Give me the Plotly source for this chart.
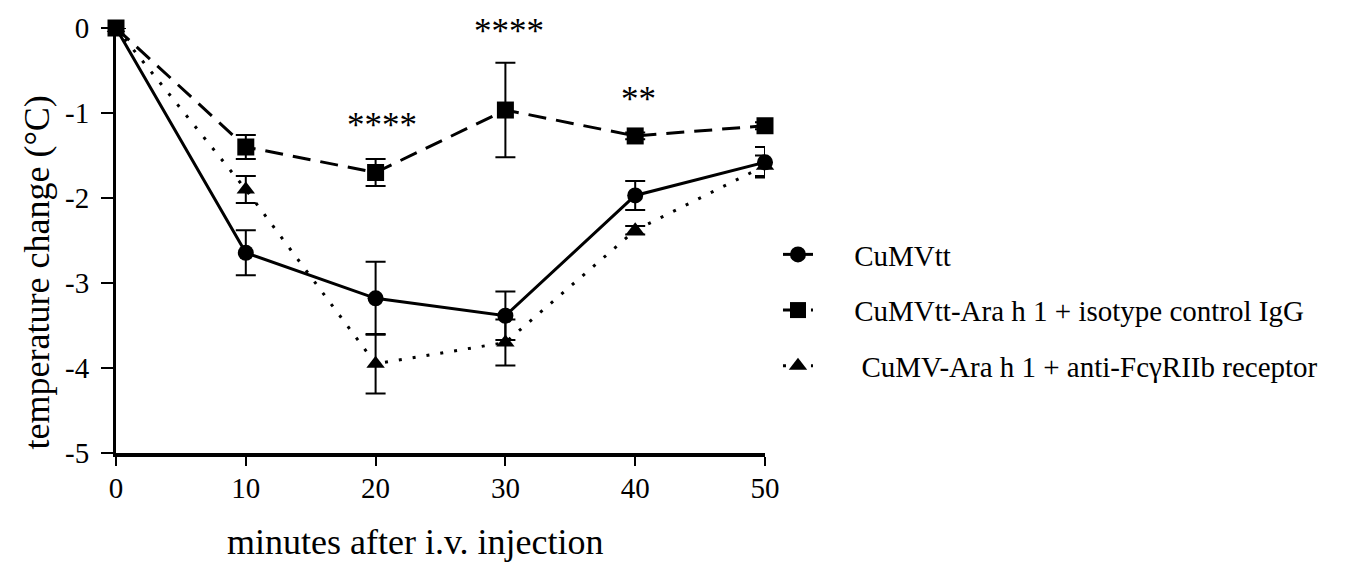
import plotly.graph_objects as go

# Time points (minutes after i.v. injection)
minutes = [0, 10, 20, 30, 40, 50]

# Mean temperature change (°C) and error (±) per group
cumvtt = [0, -2.645, -3.18, -3.385, -1.97, -1.58]
cumvtt_err = [None, 0.265, 0.43, 0.285, 0.17, 0.18]

iso_igg = [0, -1.40, -1.70, -0.965, -1.27, -1.15]
iso_igg_err = [None, 0.14, 0.16, 0.555, 0.04, 0.04]

anti_fc = [0, -1.90, -3.95, -3.70, -2.38, -1.62]
anti_fc_err = [None, 0.16, 0.35, 0.27, 0.05, 0.12]

# Significance labels (time point, label, y position)
sig_x = [20, 30, 40]
sig_text = ["****", "****", "**"]
sig_y = [-1.15, -0.04, -0.84]
sig_xshift = [6, 4, 3]

y_ticks = [0, -1, -2, -3, -4, -5]
y_ticktext = ["0", "-1", "-2", "-3", "-4", "-5"]
x_ticks = [0, 10, 20, 30, 40, 50]

FONT = "Liberation Serif"
NBSP = "\u00a0"

fig = go.Figure()


def err(vals):
    return dict(type="data", array=vals, visible=True, color="black",
                thickness=2, width=10)


fig.add_trace(go.Scatter(
    x=minutes, y=anti_fc, error_y=err(anti_fc_err),
    mode="lines+markers", name=NBSP * 6 + "CuMV-Ara h 1 + anti-FcγRIIb receptor",
    line=dict(color="black", width=3, dash="3px,11px"),
    marker=dict(symbol="triangle-up", size=16, color="black"),
    legendgroup="c", legendrank=3, cliponaxis=False,
))
fig.add_trace(go.Scatter(
    x=minutes, y=cumvtt, error_y=err(cumvtt_err),
    mode="lines+markers", name=NBSP * 5 + "CuMVtt",
    line=dict(color="black", width=3),
    marker=dict(symbol="circle", size=16, color="black"),
    legendgroup="a", legendrank=1, cliponaxis=False,
))
fig.add_trace(go.Scatter(
    x=minutes, y=iso_igg, error_y=err(iso_igg_err),
    mode="lines+markers", name=NBSP * 5 + "CuMVtt-Ara h 1 + isotype control IgG",
    line=dict(color="black", width=3, dash="18px,10px"),
    marker=dict(symbol="square", size=17, color="black"),
    legendgroup="b", legendrank=2, cliponaxis=False,
))

for xv, t, yv, xs in zip(sig_x, sig_text, sig_y, sig_xshift):
    fig.add_annotation(x=xv, y=yv, text=t, showarrow=False, xshift=xs,
                       font=dict(family=FONT, size=35, color="black"),
                       xanchor="center", yanchor="middle")

# Axis titles
fig.add_annotation(xref="paper", yref="paper", x=-0.1217, y=0.425,
                   text="temperature change (°C)", textangle=-90,
                   showarrow=False, xanchor="center", yanchor="middle",
                   font=dict(family=FONT, size=36, color="black"))
fig.add_annotation(xref="paper", yref="paper", x=0.461, y=-0.21,
                   text="minutes after i.v. injection",
                   showarrow=False, xanchor="center", yanchor="middle",
                   font=dict(family=FONT, size=36, color="black"))

fig.update_layout(
    width=1354, height=565,
    margin=dict(l=116, r=589, t=21, b=112),
    paper_bgcolor="white", plot_bgcolor="white",
    font=dict(family=FONT, color="black"),
    showlegend=True,
    legend=dict(x=1.02, y=0.527, xanchor="left", yanchor="top",
                font=dict(family=FONT, size=29, color="black"),
                traceorder="grouped", tracegroupgap=15,
                bgcolor="rgba(0,0,0,0)"),
    xaxis=dict(range=[0, 50], tickvals=x_ticks, showgrid=False, zeroline=False,
               showline=True, linecolor="black", linewidth=4,
               ticks="outside", ticklen=9, tickwidth=1.5, tickcolor="black",
               ticklabelstandoff=-3,
               tickfont=dict(family=FONT, size=29, color="black")),
    yaxis=dict(range=[-5, 0], tickvals=y_ticks, ticktext=y_ticktext,
               showgrid=False, zeroline=False,
               showline=True, linecolor="black", linewidth=3,
               ticks="outside", ticklen=12, tickwidth=1.5, tickcolor="black",
               ticklabelstandoff=6,
               tickfont=dict(family=FONT, size=29, color="black")),
)

fig.write_html("out.html")
